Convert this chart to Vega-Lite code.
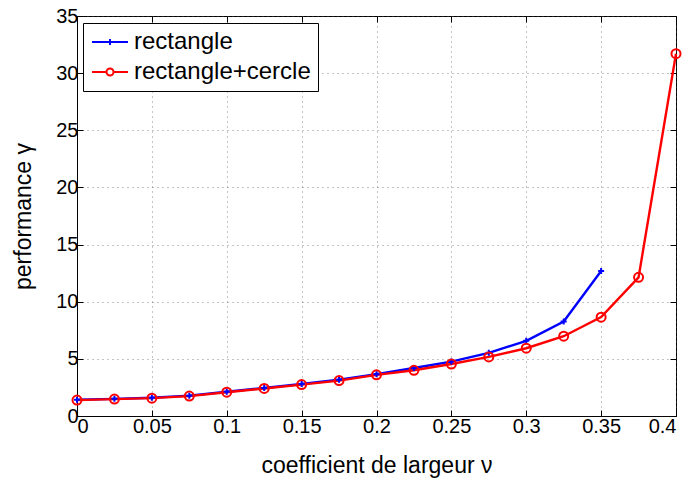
{
  "$schema": "https://vega.github.io/schema/vega-lite/v6.json",
  "width": 599,
  "height": 400,
  "autosize": "none",
  "padding": {"left": 77, "top": 16, "right": 16, "bottom": 66},
  "background": "white",
  "config": {
    "font": "Liberation Sans",
    "view": {"stroke": "black", "strokeWidth": 1},
    "axis": {
      "labelFont": "Liberation Sans",
      "titleFont": "Liberation Sans",
      "labelFontSize": 20,
      "titleFontSize": 23,
      "titleFontWeight": "normal",
      "labelColor": "black",
      "titleColor": "black",
      "domainColor": "black",
      "tickColor": "black",
      "tickSize": -6,
      "gridColor": "#555555",
      "gridDash": [1, 4],
      "gridOpacity": 0.7
    },
    "legend": {
      "title": null,
      "orient": "none",
      "legendX": 6,
      "legendY": 7,
      "direction": "vertical",
      "strokeColor": "black",
      "fillColor": "white",
      "padding": 7,
      "labelFontSize": 24,
      "labelFont": "Liberation Sans",
      "labelColor": "black",
      "symbolSize": 400,
      "symbolStrokeWidth": 2,
      "symbolOpacity": 1,
      "symbolFillColor": "transparent",
      "rowPadding": 6,
      "labelOffset": 20,
      "labelLimit": 400
    }
  },
  "data": {
    "values": [
      {"x": 0, "y": 1.42, "s": "rectangle"},
      {"x": 0.025, "y": 1.5, "s": "rectangle"},
      {"x": 0.05, "y": 1.6, "s": "rectangle"},
      {"x": 0.075, "y": 1.78, "s": "rectangle"},
      {"x": 0.1, "y": 2.12, "s": "rectangle"},
      {"x": 0.125, "y": 2.45, "s": "rectangle"},
      {"x": 0.15, "y": 2.8, "s": "rectangle"},
      {"x": 0.175, "y": 3.17, "s": "rectangle"},
      {"x": 0.2, "y": 3.65, "s": "rectangle"},
      {"x": 0.225, "y": 4.2, "s": "rectangle"},
      {"x": 0.25, "y": 4.76, "s": "rectangle"},
      {"x": 0.275, "y": 5.53, "s": "rectangle"},
      {"x": 0.3, "y": 6.58, "s": "rectangle"},
      {"x": 0.325, "y": 8.27, "s": "rectangle"},
      {"x": 0.35, "y": 12.69, "s": "rectangle"},
      {"x": 0, "y": 1.39, "s": "rectangle+cercle"},
      {"x": 0.025, "y": 1.48, "s": "rectangle+cercle"},
      {"x": 0.05, "y": 1.56, "s": "rectangle+cercle"},
      {"x": 0.075, "y": 1.74, "s": "rectangle+cercle"},
      {"x": 0.1, "y": 2.08, "s": "rectangle+cercle"},
      {"x": 0.125, "y": 2.41, "s": "rectangle+cercle"},
      {"x": 0.15, "y": 2.75, "s": "rectangle+cercle"},
      {"x": 0.175, "y": 3.1, "s": "rectangle+cercle"},
      {"x": 0.2, "y": 3.6, "s": "rectangle+cercle"},
      {"x": 0.225, "y": 4.0, "s": "rectangle+cercle"},
      {"x": 0.25, "y": 4.55, "s": "rectangle+cercle"},
      {"x": 0.275, "y": 5.17, "s": "rectangle+cercle"},
      {"x": 0.3, "y": 5.93, "s": "rectangle+cercle"},
      {"x": 0.325, "y": 6.98, "s": "rectangle+cercle"},
      {"x": 0.35, "y": 8.65, "s": "rectangle+cercle"},
      {"x": 0.375, "y": 12.13, "s": "rectangle+cercle"},
      {"x": 0.4, "y": 31.7, "s": "rectangle+cercle"}
    ]
  },
  "layer": [
    {
      "mark": {"type": "line", "strokeWidth": 2.4},
      "encoding": {
        "x": {
          "field": "x", "type": "quantitative",
          "scale": {"domain": [0, 0.4], "nice": false},
          "axis": {"title": "coefficient de largeur ν", "values": [0, 0.05, 0.1, 0.15, 0.2, 0.25, 0.3, 0.35, 0.4], "format": "~g", "labelPadding": 6, "titlePadding": 18, "grid": true}
        },
        "y": {
          "field": "y", "type": "quantitative",
          "scale": {"domain": [0, 35], "nice": false},
          "axis": {"title": "performance γ", "values": [0, 5, 10, 15, 20, 25, 30, 35], "labelPadding": 5, "titlePadding": 20, "grid": true}
        },
        "color": {
          "field": "s", "type": "nominal",
          "scale": {"domain": ["rectangle", "rectangle+cercle"], "range": ["#0000ff", "#ff0000"]},
          "legend": null
        }
      }
    },
    {
      "transform": [{"filter": "datum.s == 'rectangle'"}],
      "mark": {"type": "point", "filled": false, "strokeWidth": 2, "opacity": 1, "shape": "M-1,0L1,0M0,-1L0,1", "color": "#0000ff", "size": 36},
      "encoding": {
        "x": {"field": "x", "type": "quantitative", "axis": {"orient": "top", "labels": false, "title": null, "grid": false, "domain": false, "values": [0, 0.05, 0.1, 0.15, 0.2, 0.25, 0.3, 0.35, 0.4]}},
        "y": {"field": "y", "type": "quantitative", "axis": {"orient": "right", "labels": false, "title": null, "grid": false, "domain": false, "values": [0, 5, 10, 15, 20, 25, 30, 35]}}
      }
    },
    {
      "transform": [{"filter": "datum.s == 'rectangle+cercle'"}],
      "mark": {"type": "point", "filled": false, "strokeWidth": 2, "opacity": 1, "shape": "circle", "color": "#ff0000", "size": 81},
      "encoding": {
        "x": {"field": "x", "type": "quantitative", "axis": null},
        "y": {"field": "y", "type": "quantitative", "axis": null}
      }
    },
    {
      "transform": [{"filter": "datum.x == 0"}],
      "mark": {"type": "point", "filled": false, "strokeWidth": 2},
      "encoding": {
        "x": {"field": "x", "type": "quantitative", "axis": null},
        "y": {"field": "y", "type": "quantitative", "axis": null},
        "opacity": {"value": 0},
        "color": {
          "field": "s", "type": "nominal",
          "scale": {"domain": ["rectangle", "rectangle+cercle"], "range": ["#0000ff", "#ff0000"]}
        },
        "shape": {
          "field": "s", "type": "nominal",
          "scale": {"domain": ["rectangle", "rectangle+cercle"], "range": ["M-1,0L2.6,0M0.8,-0.3L0.8,0.3M0.5,0L1.1,0", "M-1,0L0.45,0M1.15,0L2.6,0M1.15,0A0.35,0.35 0 1,1 0.45,0A0.35,0.35 0 1,1 1.15,0"]}
        }
      }
    }
  ],
  "resolve": {"axis": {"x": "independent", "y": "independent"}, "legend": {"color": "independent", "shape": "independent"}}
}
